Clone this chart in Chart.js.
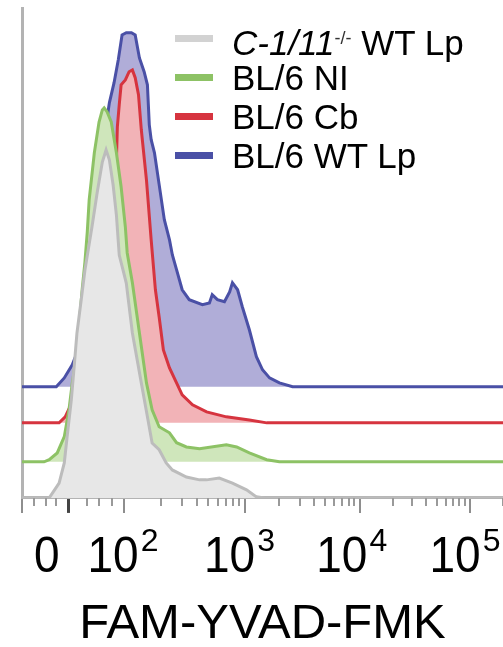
<!DOCTYPE html>
<html>
<head>
<meta charset="utf-8">
<script src="https://cdn.jsdelivr.net/npm/chart.js@4.4.1/dist/chart.umd.min.js"></script>
<style>
  html, body { margin: 0; padding: 0; background: #fff; }
  #wrap { position: relative; width: 503px; height: 647px; }
  #legend { position: absolute; left: 175px; top: 19px; font-family: "Liberation Sans", Arial, sans-serif; font-size: 35px; color: #000; }
  .row { position: relative; height: 39px; line-height: 39px; white-space: nowrap; }
  .swatch { position: absolute; left: 0; top: 16px; width: 38px; height: 7px; }
  .txt { position: absolute; left: 57px; top: 0; }
  .sup { font-size: 18px; vertical-align: 11px; color: #333; }
</style>
</head>
<body>
<div id="wrap">
  <canvas id="histo" width="503" height="647"></canvas>
  <div id="legend"></div>
</div>
<script>
// channel positions (display scale, 0-1024) and % of max
const grayX = [0,58,79,90,96,105,111,117,126,134,141,149,160,171,179,186,194,201,207,215,222,235,254,267,277,292,307,320,350,378,393,420,448,478,499,516,1024];
const grayY = [0,0,4.2,9.9,17.2,27.7,37.0,46.6,55.9,64.4,70.1,76.6,86.2,94.9,98.3,95.5,88.4,79.9,68.6,64.4,60.7,46.6,32.5,22.9,15.5,13.6,9.9,7.9,5.9,5.1,5.1,5.6,4.2,2.3,0.3,0,0];

const greenX = [0,47,58,75,90,100,107,115,122,128,134,139,143,154,164,171,175,181,190,201,211,220,224,235,250,265,277,292,314,329,350,378,435,457,484,521,548,1024];
const greenY = [0,0,0.6,2.5,7.1,14.7,22.3,28.8,39.3,48.6,56.5,65,74,87.3,96,99.4,100,98.9,96,87.3,77.7,66.4,59,50.6,36.4,22.3,14.7,9.9,8.2,5.4,4.2,3.7,4.8,4.2,2.5,0.6,0,0];

const redX = [0,79,92,109,124,132,143,154,164,181,194,201,203,207,211,220,228,235,241,248,254,265,275,284,292,301,314,329,341,363,393,435,484,521,1024];
const redY = [0,0,1.7,6.5,17.8,29.1,40.4,48.9,55.9,61.6,65.8,74.3,83.6,89.8,95.5,96.9,99.2,99.7,97.5,92.7,82.8,68.6,51.7,37.6,29.9,20.6,15.5,11.3,7.9,5.1,3.1,1.7,0.8,0,0];

const blueX = [0,73,90,107,128,137,145,154,162,171,179,186,196,205,213,222,233,241,250,260,267,271,275,282,292,303,314,320,329,341,356,384,399,405,416,431,442,448,459,469,484,499,512,527,548,576,1024];
const blueY = [0,0,2.5,6.2,13.3,24.6,35.9,47.2,57.1,66.9,74,80.2,85.9,92.4,99.4,100,100,99.4,92.9,89,85.3,74,69.8,66.1,57.1,47.2,41.5,37.3,33.1,27.4,24.6,23.2,23.7,26,24.6,24,26.8,29.4,27.4,22.6,16.1,8.5,4.8,2.5,1.1,0,0];

const seriesNames = ['<i>C-1/11</i><span class="sup">-/-</span> WT Lp', 'BL/6 NI', 'BL/6 Cb', 'BL/6 WT Lp'];

// x axis ticks
const majorTicks = [0, 100, 218, 474, 719, 954];
const preMinorTicks = [26, 51, 73, 139, 164, 192];
const decadeTicks = [218, 474, 719, 954, 1189];
const labelPos = [53, 215, 463, 702, 943];
const labelBase = ['0', '10', '10', '10', '10'];
const labelExp = ['', '2', '3', '4', '5'];

// stacking offsets and colours
const offsets = [0, 10.2, 21.2, 31.4];
const lineColors = ['#bcbcbc', '#8dc265', '#d6343f', '#4a50a6'];
const fillColors = ['#e7e7e7', '#cfe6bb', '#f2b3b7', '#b0add8'];
const swatchColors = ['#d2d2d2', '#8dc265', '#d6343f', '#4a50a6'];

const font = '"Liberation Sans", Arial, sans-serif';

const series = [[grayX, grayY], [greenX, greenY], [redX, redY], [blueX, blueY]];
const datasets = series.map(([xs, ys], i) => ({
  label: seriesNames[i],
  data: xs.map((x, j) => ({ x: x, y: ys[j] + offsets[i] })),
  borderColor: lineColors[i],
  backgroundColor: fillColors[i],
  borderWidth: 3,
  pointRadius: 0,
  tension: 0,
  fill: { value: offsets[i] }
}));

const minorTicks = preMinorTicks.slice();
for (let d = 0; d < decadeTicks.length - 1; d++) {
  const a = decadeTicks[d], b = decadeTicks[d + 1];
  for (let k = 2; k <= 9; k++) minorTicks.push(a + Math.log10(k) * (b - a));
}

const axisExtras = {
  id: 'axisExtras',
  afterDraw(chart) {
    const { ctx, chartArea, scales: { x } } = chart;
    ctx.save();
    ctx.strokeStyle = '#9a9a9a';
    ctx.lineWidth = 2;
    minorTicks.forEach(v => {
      const px = Math.round(x.getPixelForValue(v));
      if (px > chartArea.right + 1) return;
      ctx.beginPath();
      ctx.moveTo(px, chartArea.bottom);
      ctx.lineTo(px, chartArea.bottom + 8);
      ctx.stroke();
    });
    ctx.fillStyle = '#000';
    ctx.textBaseline = 'alphabetic';
    labelPos.forEach((v, i) => {
      const px = x.getPixelForValue(v);
      ctx.font = '46px ' + font;
      const wb = ctx.measureText(labelBase[i]).width;
      ctx.font = '32px ' + font;
      const we = labelExp[i] ? ctx.measureText(labelExp[i]).width + 2 : 0;
      const left = px - (wb + we) / 2;
      ctx.save();
      ctx.translate(left, 572);
      ctx.scale(1, 1.1);
      ctx.font = '46px ' + font;
      ctx.fillText(labelBase[i], 0, 0);
      ctx.restore();
      if (labelExp[i]) {
        ctx.font = '32px ' + font;
        ctx.fillText(labelExp[i], left + wb + 2, 551);
      }
    });
    ctx.restore();
  }
};

new Chart(document.getElementById('histo'), {
  type: 'line',
  data: { datasets: datasets },
  options: {
    responsive: false,
    animation: false,
    layout: { padding: { left: 22, top: 8, right: 0, bottom: 0 } },
    scales: {
      x: {
        type: 'linear',
        min: 0,
        max: 1024,
        afterBuildTicks: scale => { scale.ticks = majorTicks.map(v => ({ value: v })); },
        ticks: { display: false },
        grid: {
          display: true,
          drawOnChartArea: false,
          drawTicks: true,
          tickLength: 15,
          color: c => (c.tick && c.tick.value === 100) ? '#444' : '#8e8e8e',
          lineWidth: c => (c.tick && c.tick.value === 100) ? 3 : 2
        },
        border: { display: true, color: '#b3b3b3', width: 3 },
        title: {
          display: true,
          text: 'FAM-YVAD-FMK',
          color: '#000',
          font: { family: font, size: 49, lineHeight: 0.92 },
          padding: { top: 89, bottom: 0 }
        }
      },
      y: {
        min: 0,
        max: 138.4,
        ticks: { display: false },
        grid: { display: false, drawTicks: false },
        border: { display: true, color: '#b3b3b3', width: 3 }
      }
    },
    plugins: {
      legend: { display: false },
      tooltip: { enabled: false }
    }
  },
  plugins: [axisExtras]
});

const legend = document.getElementById('legend');
seriesNames.forEach((name, i) => {
  const row = document.createElement('div');
  row.className = 'row';
  row.innerHTML = '<span class="swatch" style="background:' + swatchColors[i] + '"></span><span class="txt">' + name + '</span>';
  legend.appendChild(row);
});
</script>
</body>
</html>
